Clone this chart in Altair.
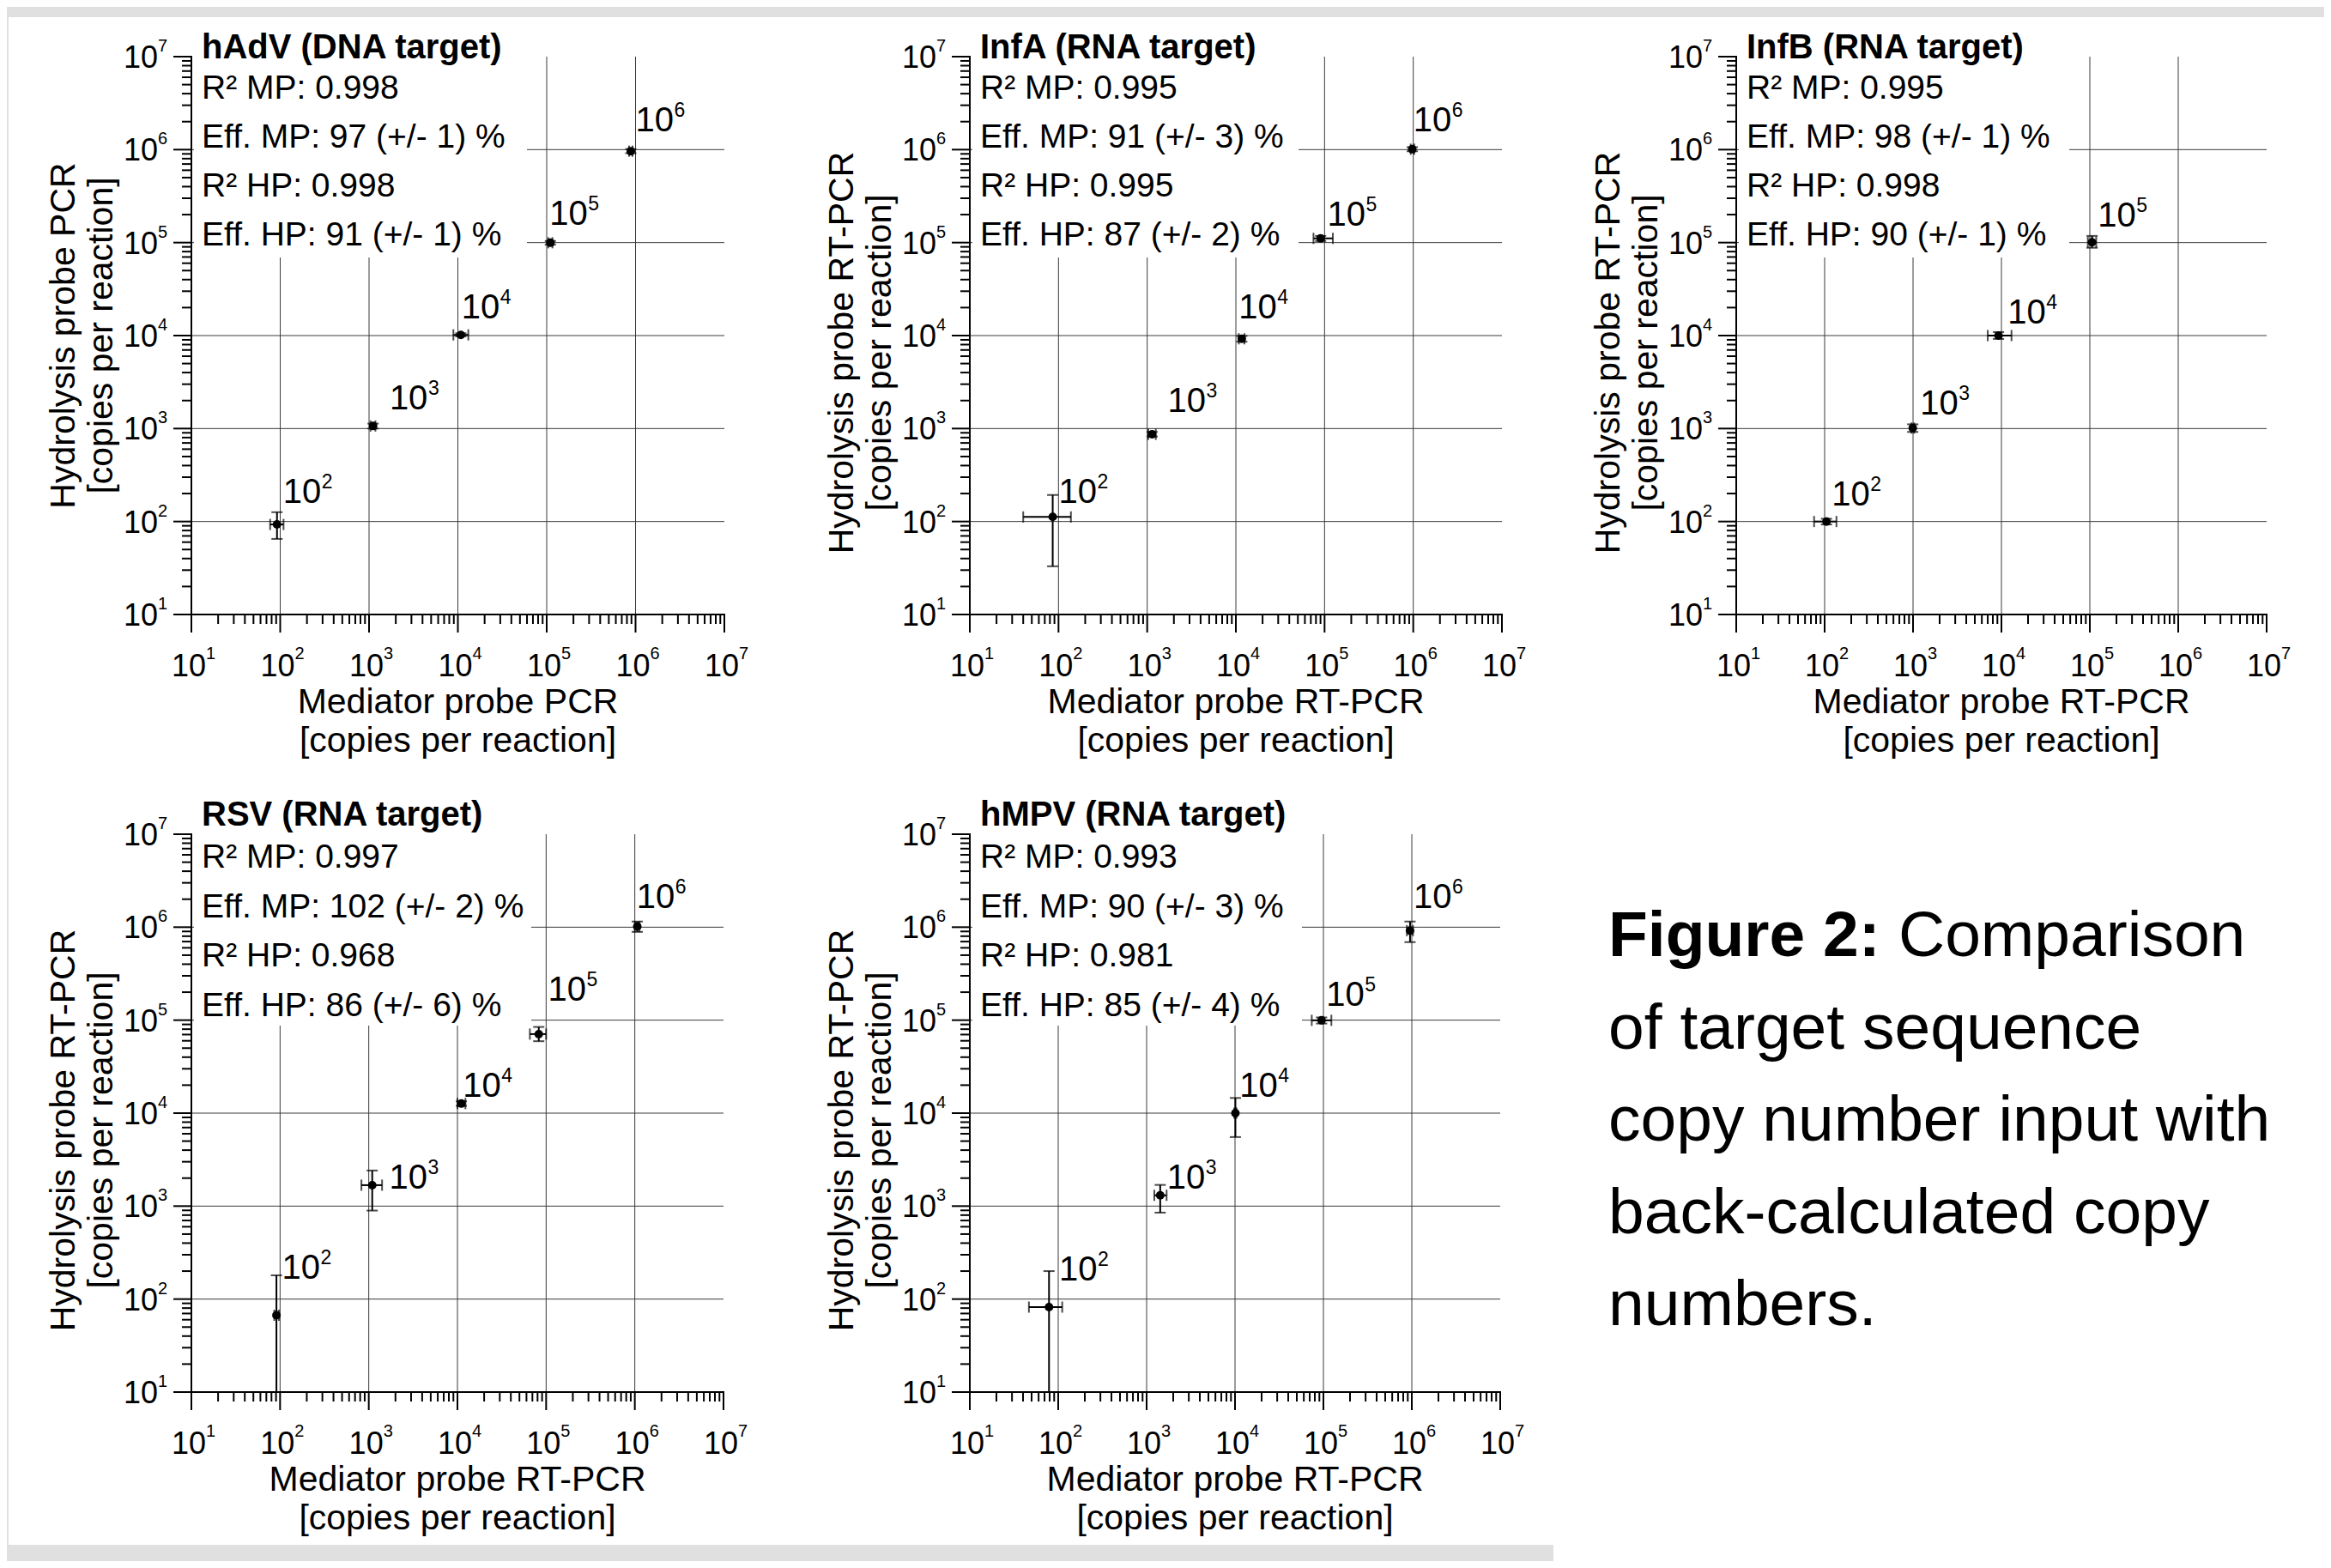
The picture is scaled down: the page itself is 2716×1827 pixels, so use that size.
import altair as alt
import pandas as pd

FONT = "Liberation Sans"
GRAY_BG = "#e0e0e0"
GRID = "#3a3a3a"

exps = [2, 3, 4, 5, 6]

# ---------------- hAdV (DNA target) ----------------
hadv_mp = [92, 1110, 10800, 110000, 885000]
hadv_hp = [93, 1065, 10170, 99600, 962000]
hadv_mp_lo = [77, 1040, 8900, 104000, 845000]
hadv_mp_hi = [109, 1180, 13100, 116000, 925000]
hadv_hp_lo = [65, 1000, 9800, 95000, 915000]
hadv_hp_hi = [126, 1130, 10600, 104000, 1010000]
hadv_lab_x = [2.05, 3.25, 4.06, 5.05, 6.02]
hadv_lab_y = [2.18, 3.19, 4.17, 5.17, 6.18]
hadv_stats = ["R² MP: 0.998", "Eff. MP: 97 (+/- 1) %", "R² HP: 0.998", "Eff. HP: 91 (+/- 1) %"]

# ---------------- InfA (RNA target) ----------------
infa_mp = [86, 1136, 11660, 90300, 975000]
infa_hp = [112, 867, 9230, 111000, 1010000]
infa_mp_lo = [40, 1030, 10800, 75000, 935000]
infa_mp_hi = [138, 1250, 12500, 124000, 1025000]
infa_hp_lo = [33, 820, 8600, 104000, 960000]
infa_hp_hi = [193, 920, 9900, 118000, 1060000]
infa_lab_x = [2.02, 3.25, 4.05, 5.05, 6.02]
infa_lab_y = [2.18, 3.16, 4.165, 5.16, 6.18]
infa_stats = ["R² MP: 0.995", "Eff. MP: 91 (+/- 3) %", "R² HP: 0.995", "Eff. HP: 87 (+/- 2) %"]

# ---------------- InfB (RNA target) ----------------
infb_mp = [105, 993, 9270, 106000]
infb_hp = [100, 1012, 10000, 101000]
infb_mp_lo = [76, 960, 7000, 95000]
infb_mp_hi = [136, 1030, 13000, 118000]
infb_hp_lo = [93, 920, 9200, 88000]
infb_hp_hi = [107, 1110, 10900, 118000]
infb_lab_x = [2.10, 3.10, 4.09, 5.11]
infb_lab_y = [2.15, 3.13, 4.11, 5.15]
infb_stats = ["R² MP: 0.995", "Eff. MP: 98 (+/- 1) %", "R² HP: 0.998", "Eff. HP: 90 (+/- 1) %"]

# ---------------- RSV (RNA target) ----------------
rsv_mp = [91, 1094, 11070, 82600, 1066000]
rsv_hp = [67, 1680, 12670, 70800, 1016000]
rsv_mp_lo = [86, 826, 10000, 65600, 1000000]
rsv_mp_hi = [97, 1413, 12300, 100000, 1130000]
rsv_hp_lo = [10, 895, 12000, 59400, 890000]
rsv_hp_hi = [180, 2415, 13400, 84500, 1150000]
rsv_lab_x = [2.04, 3.25, 4.08, 5.04, 6.04]
rsv_lab_y = [2.20, 3.17, 4.16, 5.19, 6.19]
rsv_stats = ["R² MP: 0.997", "Eff. MP: 102 (+/- 2) %", "R² HP: 0.968", "Eff. HP: 86 (+/- 6) %"]

# ---------------- hMPV (RNA target) ----------------
hmpv_mp = [78.7, 1425, 10100, 95300, 955000]
hmpv_hp = [82, 1306, 10000, 99600, 918000]
hmpv_mp_lo = [46.6, 1222, 9800, 73800, 880000]
hmpv_mp_hi = [111, 1683, 10400, 123000, 1030000]
hmpv_hp_lo = [10, 851, 5530, 92000, 690000]
hmpv_hp_hi = [200, 1690, 14560, 107000, 1150000]
hmpv_lab_x = [2.03, 3.25, 4.07, 5.05, 6.04]
hmpv_lab_y = [2.18, 3.17, 4.16, 5.14, 6.19]
hmpv_stats = ["R² MP: 0.993", "Eff. MP: 90 (+/- 3) %", "R² HP: 0.981", "Eff. HP: 85 (+/- 4) %"]

caption_bold = "Figure 2:"
caption_lines = ["Comparison", "of target sequence", "copy number input with",
                 "back-calculated copy", "numbers."]

minor_vals = [m * 10 ** k for k in range(1, 7) for m in range(2, 10)]
major_vals = [10 ** k for k in range(1, 8)]
major_exps = [str(k) for k in range(1, 8)]
grid_vals = [10 ** k for k in range(2, 7)]

ONE = pd.DataFrame({"a": [0]})


def txt(s, x, y, size, bold=False, align="left", angle=0):
    return alt.Chart(ONE).mark_text(
        text=s, font=FONT, fontSize=size, fontWeight="bold" if bold else "normal",
        align=align, baseline="alphabetic", color="black", angle=angle
    ).encode(x=alt.value(x), y=alt.value(y))


def panel(title, stats, xtitle, ytitle, mp, hp, mp_lo, mp_hi, hp_lo, hp_hi,
          lab_x, lab_y, view_w, plot_w, plot_h, box_r, box_b,
          title_y, stat_y0, stat_dy, ytitle_shift=0, extra=None):
    xs = alt.Scale(type="log", domain=[10, 1e7], range=[0, plot_w], nice=False)
    ys = alt.Scale(type="log", domain=[10, 1e7], nice=False)
    n = len(mp)
    pts = pd.DataFrame({"x": mp, "y": hp, "xlo": mp_lo, "xhi": mp_hi,
                        "ylo": hp_lo, "yhi": hp_hi})
    labs = pd.DataFrame({"lx": [10 ** v for v in lab_x], "ly": [10 ** v for v in lab_y],
                         "e": [str(e) for e in exps[:n]]})
    majors = pd.DataFrame({"v": major_vals, "e": major_exps})
    minors = pd.DataFrame({"v": minor_vals})
    grid = pd.DataFrame({"g": grid_vals})

    X = lambda f: alt.X(f, scale=xs, axis=None)
    Y = lambda f: alt.Y(f, scale=ys, axis=None)

    vgrid = alt.Chart(grid).mark_rule(color=GRID, strokeWidth=1).encode(
        x=X("g:Q"), y=alt.value(0), y2=alt.value(plot_h))
    hgrid = alt.Chart(grid).mark_rule(color=GRID, strokeWidth=1).encode(
        y=Y("g:Q"), x=alt.value(0), x2=alt.value(plot_w))
    box = alt.Chart(ONE).mark_rect(color="white").encode(
        x=alt.value(3), x2=alt.value(box_r), y=alt.value(-8), y2=alt.value(box_b))

    # axis lines and ticks (ticks point outward)
    xdom = alt.Chart(ONE).mark_rule(color="black", strokeWidth=2).encode(
        x=alt.value(-1), x2=alt.value(plot_w + 1), y=alt.value(plot_h))
    ydom = alt.Chart(ONE).mark_rule(color="black", strokeWidth=2).encode(
        x=alt.value(0), y=alt.value(-1), y2=alt.value(plot_h + 1))
    xmajor = alt.Chart(majors).mark_rule(color="black", strokeWidth=2).encode(
        x=X("v:Q"), y=alt.value(plot_h), y2=alt.value(plot_h + 21))
    ymajor = alt.Chart(majors).mark_rule(color="black", strokeWidth=2).encode(
        y=Y("v:Q"), x=alt.value(-21), x2=alt.value(0))
    xminor = alt.Chart(minors).mark_rule(color="black", strokeWidth=2).encode(
        x=X("v:Q"), y=alt.value(plot_h), y2=alt.value(plot_h + 11))
    yminor = alt.Chart(minors).mark_rule(color="black", strokeWidth=2).encode(
        y=Y("v:Q"), x=alt.value(-11), x2=alt.value(0))

    xerr = alt.Chart(pts).mark_rule(color="black", strokeWidth=2).encode(
        x=X("xlo:Q"), x2="xhi:Q", y=Y("y:Q"))
    yerr = alt.Chart(pts).mark_rule(color="black", strokeWidth=2).encode(
        x=X("x:Q"), y=Y("ylo:Q"), y2="yhi:Q")
    capx = alt.Chart(pts).transform_fold(["xlo", "xhi"], as_=["k", "cx"]).mark_tick(
        orient="vertical", size=13, thickness=2, color="black").encode(
        x=X("cx:Q"), y=Y("y:Q"))
    capy = alt.Chart(pts).transform_fold(["ylo", "yhi"], as_=["k", "cy"]).mark_tick(
        orient="horizontal", size=13, thickness=2, color="black").encode(
        x=X("x:Q"), y=Y("cy:Q"))
    dots = alt.Chart(pts).mark_circle(size=100, color="black", opacity=1).encode(
        x=X("x:Q"), y=Y("y:Q"))

    lab10 = alt.Chart(labs).mark_text(
        text="10", font=FONT, fontSize=40, align="left", baseline="alphabetic",
        dx=-2, dy=-2, color="black").encode(x=X("lx:Q"), y=Y("ly:Q"))
    labe = alt.Chart(labs).mark_text(
        font=FONT, fontSize=23, align="left", baseline="alphabetic",
        dx=43, dy=-19, color="black").encode(x=X("lx:Q"), y=Y("ly:Q"), text="e:N")

    xt10 = alt.Chart(majors).mark_text(
        text="10", font=FONT, fontSize=36, align="right", baseline="alphabetic",
        dx=17, color="black").encode(x=X("v:Q"), y=alt.value(plot_h + 72))
    xte = alt.Chart(majors).mark_text(
        font=FONT, fontSize=20, align="left", baseline="alphabetic",
        dx=17, color="black").encode(x=X("v:Q"), y=alt.value(plot_h + 52), text="e:N")
    yt10 = alt.Chart(majors).mark_text(
        text="10", font=FONT, fontSize=36, align="right", baseline="alphabetic",
        dy=13, color="black").encode(y=Y("v:Q"), x=alt.value(-39))
    yte = alt.Chart(majors).mark_text(
        font=FONT, fontSize=20, align="left", baseline="alphabetic",
        dy=-6, color="black").encode(y=Y("v:Q"), x=alt.value(-39), text="e:N")

    layers = [vgrid, hgrid, box, xminor, yminor, xmajor, ymajor, xdom, ydom,
              xerr, yerr, capx, capy, dots,
              lab10, labe, xt10, xte, yt10, yte, txt(title, 12, title_y, 40, bold=True)]
    for i, s in enumerate(stats):
        layers.append(txt(s, 12, stat_y0 + i * stat_dy, 39))
    # axis titles
    layers.append(txt(xtitle[0], plot_w / 2, plot_h + 115, 41, align="center"))
    layers.append(txt(xtitle[1], plot_w / 2, plot_h + 160, 41, align="center"))
    yc = plot_h / 2 + ytitle_shift
    layers.append(txt(ytitle[0], -136, yc, 41, align="center", angle=270))
    layers.append(txt(ytitle[1], -92, yc, 41, align="center", angle=270))
    if extra:
        layers.extend(extra)
    return alt.layer(*layers).properties(width=view_w, height=plot_h)


# gray page border strips (layout), anchored to the first panel
def strip(x1, x2, y1, y2):
    return alt.Chart(ONE).mark_rect(color=GRAY_BG).encode(
        x=alt.value(x1), x2=alt.value(x2), y=alt.value(y1), y2=alt.value(y2))


borders = [strip(-215, 2485, -58, -46), strip(-215, -213, -58, 1753),
           strip(-215, 1587, 1734, 1753)]

H = 650
RT = 20
p1 = panel("hAdV (DNA target)", hadv_stats,
           ["Mediator probe PCR", "[copies per reaction]"],
           ["Hydrolysis probe PCR", "[copies per reaction]"],
           hadv_mp, hadv_hp, hadv_mp_lo, hadv_mp_hi, hadv_hp_lo, hadv_hp_hi,
           hadv_lab_x, hadv_lab_y, 634, 621, H, 391, 234, 2, 49, 57, extra=borders)
p2 = panel("InfA (RNA target)", infa_stats,
           ["Mediator probe RT-PCR", "[copies per reaction]"],
           ["Hydrolysis probe RT-PCR", "[copies per reaction]"],
           infa_mp, infa_hp, infa_mp_lo, infa_mp_hi, infa_hp_lo, infa_hp_hi,
           infa_lab_x, infa_lab_y, 620, 620, H, 383, 234, 2, 49, 57, ytitle_shift=RT)
p3 = panel("InfB (RNA target)", infb_stats,
           ["Mediator probe RT-PCR", "[copies per reaction]"],
           ["Hydrolysis probe RT-PCR", "[copies per reaction]"],
           infb_mp, infb_hp, infb_mp_lo, infb_mp_hi, infb_hp_lo, infb_hp_hi,
           infb_lab_x, infb_lab_y, 618, 618, H, 388, 234, 2, 49, 57, ytitle_shift=RT)
p4 = panel("RSV (RNA target)", rsv_stats,
           ["Mediator probe RT-PCR", "[copies per reaction]"],
           ["Hydrolysis probe RT-PCR", "[copies per reaction]"],
           rsv_mp, rsv_hp, rsv_mp_lo, rsv_mp_hi, rsv_hp_lo, rsv_hp_hi,
           rsv_lab_x, rsv_lab_y, 634, 620, H, 396, 223, -10, 39, 57.5, ytitle_shift=RT)
p5 = panel("hMPV (RNA target)", hmpv_stats,
           ["Mediator probe RT-PCR", "[copies per reaction]"],
           ["Hydrolysis probe RT-PCR", "[copies per reaction]"],
           hmpv_mp, hmpv_hp, hmpv_mp_lo, hmpv_mp_hi, hmpv_hp_lo, hmpv_hp_hi,
           hmpv_lab_x, hmpv_lab_y, 620, 618, H, 387, 223, -10, 39, 57.5, ytitle_shift=RT)

CAP = 75
cap_layers = [txt(caption_bold, -149, 142, CAP, bold=True),
              txt(caption_lines[0], -149 + 338, 142, CAP)]
for i, line in enumerate(caption_lines[1:], start=1):
    cap_layers.append(txt(line, -149, 142 + i * 107.5, CAP))
cap = alt.layer(*cap_layers).properties(width=618, height=H)

chart = alt.concat(
    p1, p2, p3, p4, p5, cap, columns=3,
    spacing=alt.RowColnumber(row=256, column=273),
    bounds="flush", align="each",
).properties(padding=0, background="white").configure_view(stroke=None)

chart.save("out.html", embed_options={"renderer": "svg", "actions": False})
